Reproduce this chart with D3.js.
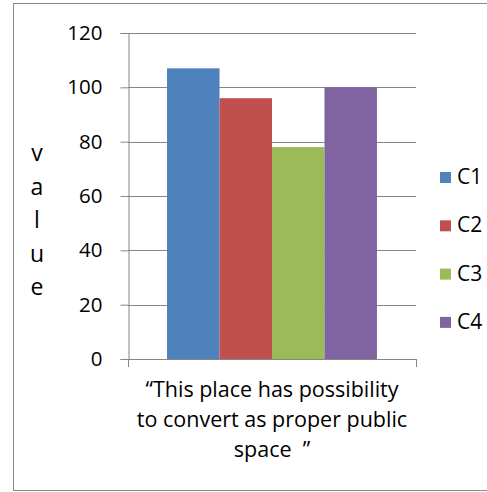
<!DOCTYPE html>
<html>
<head>
<meta charset="utf-8">
<script src="https://cdn.jsdelivr.net/npm/d3@7"></script>
<style>
  html, body { margin: 0; padding: 0; background: #fff; }
  svg text { font-family: "Open Sans", Lato, sans-serif; fill: #000; }
</style>
</head>
<body>
<svg id="chart" width="487" height="492"></svg>
<script>
// Series and their values for the single category
const seriesNames = ["C1", "C2", "C3", "C4"];
const seriesValues = [107, 96, 78, 100];
const seriesColors = ["#4F81BD", "#C0504D", "#9BBB59", "#8064A2"];
const yTicks = [0, 20, 40, 60, 80, 100, 120];
const categoryLines = ["\u201CThis place has possibility", "to convert as proper public", "space  \u201D"];
const yTitle = ["v", "a", "l", "u", "e"];

const svg = d3.select("#chart");
const FONT = "\"Open Sans\", Lato, sans-serif";

// Outer frame
svg.append("rect")
  .attr("x", 13.5).attr("y", 3.5)
  .attr("width", 474).attr("height", 487)
  .attr("fill", "#fff").attr("stroke", "#8a8a8a").attr("stroke-width", 1);

const plot = { left: 128, right: 416, top: 33, bottom: 359 };

const y = d3.scaleLinear().domain([0, 120]).range([plot.bottom, plot.top]);
const x = d3.scaleBand().domain(["cat"]).range([plot.left, plot.right]).paddingInner(0).paddingOuter(0.186);
const xs = d3.scaleBand().domain(seriesNames).range([0, x.bandwidth()]);

// Gridlines
svg.append("g")
  .selectAll("line").data(yTicks.filter(d => d > 0)).join("line")
  .attr("x1", plot.left).attr("x2", plot.right)
  .attr("y1", d => Math.round(y(d)) + 0.5).attr("y2", d => Math.round(y(d)) + 0.5)
  .attr("stroke", "#868686").attr("stroke-width", 1);

// Bars
svg.append("g")
  .selectAll("rect").data(seriesValues).join("rect")
  .attr("x", (d, i) => x("cat") + xs(seriesNames[i]))
  .attr("width", xs.bandwidth())
  .attr("y", d => y(d))
  .attr("height", d => y(0) - y(d))
  .attr("fill", (d, i) => seriesColors[i]);

// Y axis
const yAxis = d3.axisLeft(y).tickValues(yTicks).tickSize(8).tickPadding(18);
const gy = svg.append("g").attr("transform", `translate(${plot.left + 0.5},0)`).call(yAxis);
gy.select(".domain").attr("stroke", "#868686");
gy.selectAll(".tick line").attr("stroke", "#868686");
gy.selectAll(".tick text").style("font-size", "20.5px").style("font-family", FONT).attr("fill", "#000");

// X axis baseline with end ticks
const gx = svg.append("g");
gx.append("line")
  .attr("x1", plot.left).attr("x2", plot.right + 0.5)
  .attr("y1", plot.bottom + 0.5).attr("y2", plot.bottom + 0.5)
  .attr("stroke", "#868686");
gx.selectAll("line.t").data([plot.left, plot.right]).join("line")
  .attr("class", "t")
  .attr("x1", d => d + 0.5).attr("x2", d => d + 0.5)
  .attr("y1", plot.bottom).attr("y2", plot.bottom + 8)
  .attr("stroke", "#868686");

// Category label (spaces kept as typed)
const cx = (plot.left + plot.right) / 2;
svg.append("g").selectAll("text").data(categoryLines).join("text")
  .attr("x", cx).attr("y", (d, i) => 397 + i * 30)
  .attr("text-anchor", "middle")
  .style("font-size", "21.5px")
  .style("white-space", "pre")
  .text(d => d);

// Stacked-letter axis title
svg.append("g").selectAll("text").data(yTitle).join("text")
  .attr("x", 37).attr("y", (d, i) => 161 + i * 33.5)
  .attr("text-anchor", "middle")
  .style("font-size", "23px")
  .text(d => d);

// Legend
const legend = svg.append("g").selectAll("g").data(seriesNames).join("g")
  .attr("transform", (d, i) => `translate(440,${172 + i * 48.3})`);
legend.append("rect").attr("width", 11).attr("height", 11)
  .attr("fill", (d, i) => seriesColors[i]);
legend.append("text").attr("x", 17).attr("y", 12)
  .style("font-size", "21px")
  .text(d => d);
</script>
</body>
</html>
